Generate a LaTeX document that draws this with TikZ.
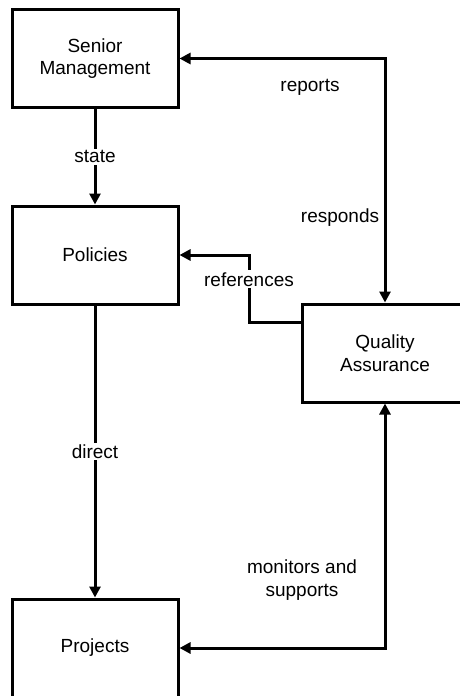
\documentclass[tikz,border=0pt]{standalone}
\usepackage{fontspec}
\setmainfont{Liberation Sans}
\usetikzlibrary{arrows.meta}
\tikzset{
  box/.style={draw, line width=3pt, minimum width=166pt, minimum height=98pt,
    align=center, inner sep=0pt},
  conn/.style={line width=3pt, -{Triangle[length=11pt,width=11pt]}},
  twoway/.style={line width=3pt, {Triangle[length=11pt,width=11pt]}-{Triangle[length=11pt,width=11pt]}},
  lbl/.style={fill=white, inner sep=2pt, align=center}
}
\begin{document}
\begin{tikzpicture}[x=1pt,y=1pt,font=\fontsize{19}{22.5}\selectfont]
  \useasboundingbox (0,0) rectangle (459,-696);
  % boxes
  \node[box] (sm) at (95,-58.5) {Senior\\Management};
  \node[box] (pol) at (95,-255) {Policies};
  \node[box] (qa) at (385,-353) {Quality\\Assurance};
  \node[box] (proj) at (95,-648) {Projects};
  % connectors
  \draw[conn] (sm) -- node[lbl] (state) {state} (pol);
  \draw[conn] (pol) -- node[lbl] (direct) {direct} (proj);
  \draw[twoway] (sm.east) -| (qa.north);
  \draw[twoway] (qa.south) |- (proj.east);
  \coordinate (refbend) at (249,-255);
  \draw[conn] ([yshift=-20pt]qa.north west) -| (refbend)
    node[lbl, pos=0.82] (refs) {references} -- (pol.east);
  % labels
  \node (reports) at (310,-87) {reports};
  \node (responds) at (340,-218) {responds};
  \node[align=center] (monitors) at (302,-580) {monitors and\\supports};
\end{tikzpicture}
\end{document}
